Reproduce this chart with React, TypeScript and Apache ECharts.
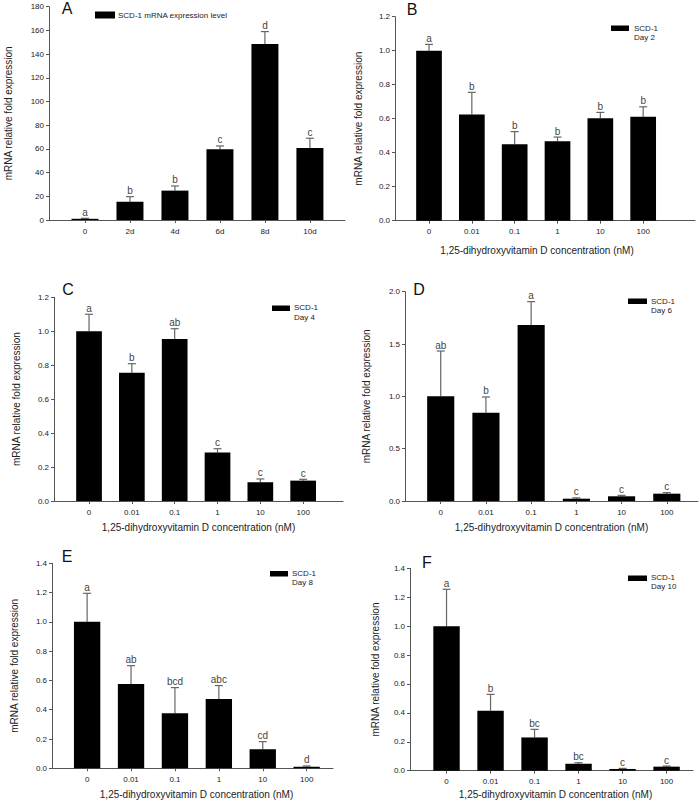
import React, { useEffect, useRef } from 'react';
import * as echarts from 'echarts';

const FONT = '"Liberation Sans", Arial, Helvetica, sans-serif';

// ---- categories ----
const dayCategories = ['0', '2d', '4d', '6d', '8d', '10d'];
const concCategories = ['0', '0.01', '0.1', '1', '10', '100'];

// ---- panel A: time course ----
const meanA = [1.0, 15.5, 24.8, 59.6, 148.6, 60.8];
const errA = [0.4, 4.2, 3.9, 2.9, 10.4, 8.2];
const lettersA = ['a', 'b', 'b', 'c', 'd', 'c'];

// ---- panel B: Day 2 ----
const meanB = [1.0, 0.625, 0.449, 0.467, 0.602, 0.612];
const errB = [0.037, 0.13, 0.075, 0.025, 0.035, 0.058];
const lettersB = ['a', 'b', 'b', 'b', 'b', 'b'];

// ---- panel C: Day 4 ----
const meanC = [1.0, 0.756, 0.954, 0.285, 0.11, 0.12];
const errC = [0.1, 0.053, 0.061, 0.023, 0.02, 0.008];
const lettersC = ['a', 'b', 'ab', 'c', 'c', 'c'];

// ---- panel D: Day 6 ----
const meanD = [1.0, 0.844, 1.681, 0.022, 0.045, 0.07];
const errD = [0.433, 0.15, 0.224, 0.008, 0.009, 0.01];
const lettersD = ['ab', 'b', 'a', 'c', 'c', 'c'];

// ---- panel E: Day 8 ----
const meanE = [1.0, 0.576, 0.376, 0.474, 0.13, 0.011];
const errE = [0.195, 0.125, 0.175, 0.091, 0.052, 0.005];
const lettersE = ['a', 'ab', 'bcd', 'abc', 'cd', 'd'];

// ---- panel F: Day 10 ----
const meanF = [1.0, 0.415, 0.23, 0.048, 0.012, 0.028];
const errF = [0.255, 0.113, 0.056, 0.007, 0.004, 0.004];
const lettersF = ['a', 'b', 'bc', 'bc', 'c', 'c'];

// ---- tick settings ----
const yMaxes = [180, 1.2, 1.2, 2.0, 1.4, 1.4];
const yIntervals = [20, 0.2, 0.2, 0.5, 0.2, 0.2];
const yDecimals = [0, 1, 1, 1, 1, 1];

const panelLetters = ['A', 'B', 'C', 'D', 'E', 'F'];
const legendLines = [
  ['SCD-1 mRNA expression level'],
  ['SCD-1', 'Day 2'],
  ['SCD-1', 'Day 4'],
  ['SCD-1', 'Day 6'],
  ['SCD-1', 'Day 8'],
  ['SCD-1', 'Day 10'],
];
const yTitle = 'mRNA relative fold expression';
const xTitle = '1,25-dihydroxyvitamin D concentration (nM)';

// ---- layout (pixels) ----
const layouts = [
  { left: 49, top: 6.7, width: 296, height: 213.3, xMin: -0.8, xMax: 5.78, yGap: 35.5, xGap: 0, xShift: 0,
    letter: [67, 8], legRect: [95, 11.5, 20, 7], legText: [118, 15, 0] },
  { left: 395, top: 16.7, width: 300, height: 204, xMin: -0.794, xMax: 6.21, yGap: 31.5, xGap: 25, xShift: -8,
    letter: [412, 9.5], legRect: [611, 25.5, 18, 5.5], legText: [634, 28.3, 9.4] },
  { left: 54, top: 297.3, width: 289, height: 203.7, xMin: -0.818, xMax: 5.93, yGap: 32.5, xGap: 21.5, xShift: 0,
    letter: [68, 289.5], legRect: [272, 305.5, 18, 5.5], legText: [294, 307.8, 9.4] },
  { left: 405, top: 291.7, width: 293, height: 209.3, xMin: -0.79, xMax: 5.69, yGap: 33.5, xGap: 21.5, xShift: 0,
    letter: [419, 289.5], legRect: [628, 298.5, 19, 5.5], legText: [651, 301, 9.4] },
  { left: 52, top: 563.3, width: 281, height: 205, xMin: -0.8, xMax: 5.6, yGap: 32.5, xGap: 21.5, xShift: 4,
    letter: [67, 556.5], legRect: [270, 571, 18, 5.5], legText: [292, 573.5, 9.4] },
  { left: 410, top: 568.3, width: 283, height: 202.4, xMin: -0.83, xMax: 5.6, yGap: 29.5, xGap: 18.5, xShift: 4,
    letter: [427, 562.5], legRect: [628, 575.5, 19, 5.5], legText: [651, 577.5, 9.4] },
];

const means = [meanA, meanB, meanC, meanD, meanE, meanF];
const errs = [errA, errB, errC, errD, errE, errF];
const letters = [lettersA, lettersB, lettersC, lettersD, lettersE, lettersF];
const categories = [dayCategories, concCategories, concCategories, concCategories, concCategories, concCategories];

const AXIS_COLOR = '#555';
const LABEL_COLOR = '#222';
const ERR_COLOR = '#666';
const LETTER_COLOR = '#444';

function buildOption() {
  const grid: any[] = [];
  const xAxis: any[] = [];
  const yAxis: any[] = [];
  const series: any[] = [];
  const graphic: any[] = [];

  layouts.forEach((L, p) => {
    const cats = categories[p];
    const idxs = cats.map((_, i) => i);
    grid.push({ left: L.left, top: L.top, width: L.width, height: L.height, containLabel: false });
    const sh = L.xShift;
    xAxis.push({
      gridIndex: p,
      type: 'value',
      min: L.xMin,
      max: L.xMax,
      splitLine: { show: false },
      axisLine: { show: true, onZero: false, lineStyle: { color: AXIS_COLOR, width: 1 } },
      axisTick: { show: true, length: 3, customValues: idxs, lineStyle: { color: AXIS_COLOR } },
      axisLabel: {
        show: true,
        customValues: idxs,
        formatter: (v: number) => cats[Math.round(v)] ?? '',
        fontFamily: FONT,
        fontSize: 8,
        color: LABEL_COLOR,
        margin: 7,
      },
      name: p === 0 ? '' : xTitle,
      nameLocation: 'middle',
      nameGap: L.xGap,
      nameTextStyle: {
        fontFamily: FONT,
        fontSize: 10,
        color: LABEL_COLOR,
        padding: [0, sh < 0 ? -2 * sh : 0, 0, sh > 0 ? 2 * sh : 0],
      },
    });
    const dec = yDecimals[p];
    yAxis.push({
      gridIndex: p,
      type: 'value',
      min: 0,
      max: yMaxes[p],
      interval: yIntervals[p],
      splitLine: { show: false },
      axisLine: { show: true, onZero: false, lineStyle: { color: AXIS_COLOR, width: 1 } },
      axisTick: { show: true, length: 3, lineStyle: { color: AXIS_COLOR } },
      axisLabel: {
        fontFamily: FONT,
        fontSize: 8,
        color: LABEL_COLOR,
        margin: 5,
        formatter: (v: number) => v.toFixed(dec),
      },
      name: yTitle,
      nameLocation: 'middle',
      nameGap: L.yGap,
      nameTextStyle: { fontFamily: FONT, fontSize: 10, color: LABEL_COLOR },
    });

    const m = means[p];
    const e = errs[p];
    const lt = letters[p];
    series.push({
      type: 'custom',
      name: legendLines[p].join(' '),
      xAxisIndex: p,
      yAxisIndex: p,
      data: m.map((v, i) => [i, v, e[i]]),
      renderItem: (params: any, api: any) => {
        const x = api.value(0);
        const y = api.value(1);
        const er = api.value(2);
        const half = 0.3;
        const p0 = api.coord([x - half, y]);
        const p1 = api.coord([x + half, 0]);
        const top = api.coord([x, y + er]);
        const base = api.coord([x, y]);
        return {
          type: 'group',
          children: [
            {
              type: 'line',
              shape: { x1: base[0], y1: base[1], x2: top[0], y2: top[1] },
              style: { stroke: ERR_COLOR, lineWidth: 1.2 },
            },
            {
              type: 'line',
              shape: { x1: top[0] - 4, y1: top[1], x2: top[0] + 4, y2: top[1] },
              style: { stroke: ERR_COLOR, lineWidth: 1.2 },
            },
            {
              type: 'rect',
              shape: { x: p0[0], y: p0[1], width: p1[0] - p0[0], height: Math.max(p1[1] - p0[1], 1) },
              style: { fill: '#000' },
            },
            {
              type: 'text',
              x: top[0],
              y: top[1] - 1,
              style: {
                text: lt[params.dataIndex],
                fontFamily: FONT,
                fontSize: 10,
                fill: LETTER_COLOR,
                align: 'center',
                verticalAlign: 'bottom',
              },
            },
          ],
        };
      },
    });

    // panel letter
    graphic.push({
      type: 'text',
      x: L.letter[0],
      y: L.letter[1],
      style: {
        text: panelLetters[p],
        fontFamily: FONT,
        fontSize: 16,
        fill: '#111',
        align: 'center',
        verticalAlign: 'middle',
      },
    });
    // legend
    graphic.push({
      type: 'rect',
      shape: { x: L.legRect[0], y: L.legRect[1], width: L.legRect[2], height: L.legRect[3] },
      style: { fill: '#000' },
    });
    legendLines[p].forEach((line, k) => {
      graphic.push({
        type: 'text',
        x: L.legText[0],
        y: L.legText[1] + k * L.legText[2],
        style: {
          text: line,
          fontFamily: FONT,
          fontSize: 8,
          fill: LABEL_COLOR,
          align: 'left',
          verticalAlign: 'middle',
        },
      });
    });
  });

  return {
    animation: false,
    backgroundColor: '#fff',
    grid,
    xAxis,
    yAxis,
    series,
    graphic,
  };
}

export default function App() {
  const ref = useRef<HTMLDivElement>(null);
  useEffect(() => {
    if (!ref.current) return;
    const chart = echarts.init(ref.current, null, { renderer: 'svg' });
    chart.setOption(buildOption() as any);
    return () => chart.dispose();
  }, []);
  return (
    <div
      ref={ref}
      style={{ position: 'absolute', left: 0, top: 0, width: 699, height: 804, background: '#fff' }}
    />
  );
}
